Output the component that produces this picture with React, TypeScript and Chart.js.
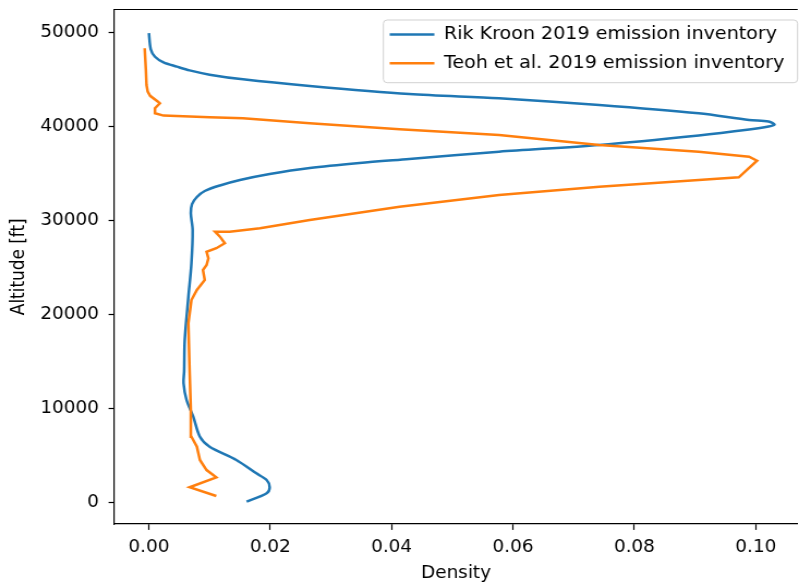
import React, { useEffect, useRef } from 'react';
import { Chart, registerables } from 'chart.js';

Chart.register(...registerables);

// ---- data ----
const seriesLabels = ['Rik Kroon 2019 emission inventory', 'Teoh et al. 2019 emission inventory'];
const xTitle = 'Density';
const yTitle = 'Altitude [ft]';
const xTicks = [0, 0.02, 0.04, 0.06, 0.08, 0.1];
const yTicks = [0, 10000, 20000, 30000, 40000, 50000];

const rikDensity = [
  0.0161, 0.0194, 0.0199, 0.0194, 0.0177, 0.0144, 0.0100, 0.0084, 0.0073, 0.0062,
  0.0057, 0.0058, 0.0059, 0.0065, 0.0070, 0.0072, 0.0069, 0.0071, 0.0079, 0.0092,
  0.0117, 0.0150, 0.0199, 0.0265, 0.0347, 0.0429, 0.0577, 0.0742, 0.0906, 0.0989,
  0.1021, 0.1031, 0.1021, 0.0989, 0.0906, 0.0742, 0.0577, 0.0429, 0.0265, 0.0155,
  0.0100, 0.0067, 0.0046, 0.0024, 0.0010, 0.0003, 0.0000,
];
const rikAltitude = [
  150, 1030, 1670, 2440, 3150, 4570, 5980, 7040, 9170, 10940,
  12720, 14000, 17300, 21900, 25460, 29000, 30770, 31740, 32505, 33140,
  33727, 34310, 34948, 35585, 36116, 36541, 37317, 38029, 39038, 39675,
  39994, 40206, 40525, 40684, 41396, 42288, 42989, 43450, 44300, 45000,
  45500, 45950, 46350, 46800, 47400, 48200, 49900,
];

const teohDensity = [
  0.0111, 0.0067, 0.0111, 0.0095, 0.0084, 0.0079, 0.0070, 0.0069, 0.0067, 0.0065,
  0.0070, 0.0079, 0.0092, 0.0089, 0.0095, 0.0098, 0.0095, 0.0111, 0.0125, 0.0117,
  0.0109, 0.0133, 0.0183, 0.0265, 0.0413, 0.0577, 0.0742, 0.0906, 0.0972, 0.1002,
  0.0989, 0.0906, 0.0742, 0.0577, 0.0413, 0.0265, 0.0155, 0.0100, 0.0024, 0.0010,
  0.0010, 0.0018, 0.0015, 0.0002, -0.0002, -0.0004, -0.0005, -0.0007,
];
const teohAltitude = [
  740, 1670, 2730, 3500, 4570, 5980, 7040, 9880, 14130, 19090,
  21560, 22630, 23690, 24750, 25280, 25990, 26690, 27060, 27590, 28290,
  28820, 28820, 29180, 30060, 31470, 32720, 33600, 34310, 34600, 36360,
  36790, 37320, 38030, 39090, 39700, 40330, 40870, 40970, 41150, 41400,
  41930, 42450, 42630, 43250, 43700, 44400, 46000, 48300,
];

// ---- layout constants ----
const CW = 733;
const CH = 585;
const FONT = "'DejaVu Sans', sans-serif";
const FS = 16.9;
const LEGEND_FS = 17.5;

const framePlugin = {
  id: 'mplFrame',
  beforeDraw(chart: any) {
    const ctx = chart.ctx;
    ctx.save();
    ctx.beginPath();
    ctx.roundRect(351.7, 20, 380, 62.7, 3.5);
    ctx.fillStyle = 'rgba(255,255,255,0.8)';
    ctx.fill();
    ctx.strokeStyle = 'rgba(204,204,204,0.9)';
    ctx.lineWidth = 1;
    ctx.stroke();
    ctx.restore();
    const lg = chart.legend;
    if (lg) {
      const w = lg.width;
      lg.left = 346.3;
      lg.top = 14.5;
      lg.right = lg.left + w;
      lg.bottom = chart.chartArea.bottom;
    }
  },
  afterDraw(chart: any) {
    const { left, right, top } = chart.chartArea;
    const ctx = chart.ctx;
    ctx.save();
    ctx.strokeStyle = '#000';
    ctx.lineWidth = 1.2;
    ctx.beginPath();
    ctx.moveTo(left, top);
    ctx.lineTo(right, top);
    ctx.stroke();
    ctx.restore();
  },
};

export default function App() {
  const ref = useRef<HTMLCanvasElement>(null);
  useEffect(() => {
    const canvas = ref.current;
    if (!canvas) return;
    const chart = new Chart(canvas, {
      type: 'scatter',
      data: {
        datasets: [
          {
            label: seriesLabels[0],
            data: rikAltitude.map((y, i) => ({ x: rikDensity[i], y })),
            borderColor: '#1f77b4',
            backgroundColor: '#1f77b4',
            borderWidth: 2.5,
            pointRadius: 0,
            showLine: true,
            tension: 0.3,
            order: 1,
          },
          {
            label: seriesLabels[1],
            data: teohAltitude.map((y, i) => ({ x: teohDensity[i], y })),
            borderColor: '#ff7f0e',
            backgroundColor: '#ff7f0e',
            borderWidth: 2.5,
            pointRadius: 0,
            showLine: true,
            tension: 0,
            order: 0,
          },
        ],
      },
      options: {
        animation: false,
        responsive: true,
        maintainAspectRatio: false,
        layout: { padding: { left: 0, right: 0, top: 9.5, bottom: 0 } },
        plugins: {
          tooltip: { enabled: false },
          legend: {
            position: 'chartArea',
            align: 'start',
            labels: {
              usePointStyle: true,
              pointStyle: 'line',
              pointStyleWidth: 41,
              padding: 11.2,
              color: '#000',
              font: { family: FONT, size: LEGEND_FS },
              sort: (a: any, b: any) => a.datasetIndex - b.datasetIndex,
            },
          },
        },
        scales: {
          x: {
            type: 'linear',
            min: -0.00568,
            max: 0.1069,
            afterFit: (s: any) => { s.height = 61; s.paddingLeft = 0; s.paddingRight = 0; },
            afterBuildTicks: (s: any) => { s.ticks = xTicks.map((v) => ({ value: v })); },
            ticks: {
              autoSkip: false,
              maxRotation: 0,
              padding: 8,
              color: '#000',
              font: { family: FONT, size: FS },
              callback: (v: any) => Number(v).toFixed(2),
            },
            grid: { display: true, drawOnChartArea: false, drawTicks: true, tickLength: 5.9, color: '#000', tickWidth: 1.2 },
            border: { display: true, color: '#000', width: 1.2 },
            title: { display: true, text: xTitle, color: '#000', font: { family: FONT, size: FS }, padding: { top: 0, bottom: 1 } },
          },
          y: {
            type: 'linear',
            min: -2231,
            max: 52420,
            afterFit: (s: any) => { s.width = 105; s.paddingTop = 0; s.paddingBottom = 0; },
            afterBuildTicks: (s: any) => { s.ticks = yTicks.map((v) => ({ value: v })); },
            ticks: {
              autoSkip: false,
              padding: 8.8,
              color: '#000',
              font: { family: FONT, size: FS },
              callback: (v: any) => String(v),
            },
            grid: { display: true, drawOnChartArea: false, drawTicks: true, tickLength: 5.4, color: '#000', tickWidth: 1.2 },
            border: { display: true, color: '#000', width: 1.2 },
            title: { display: true, text: yTitle, color: '#000', font: { family: FONT, size: FS }, padding: { top: 7, bottom: 0 } },
          },
        },
      },
      plugins: [framePlugin],
    } as any);
    return () => chart.destroy();
  }, []);

  return (
    <div style={{ position: 'fixed', left: 0, top: 0, width: 799, height: CH, overflow: 'hidden', background: '#fff' }}>
      <div style={{ position: 'relative', width: CW, height: CH, transform: `scaleX(${799 / CW})`, transformOrigin: '0 0' }}>
        <canvas ref={ref} />
      </div>
    </div>
  );
}
